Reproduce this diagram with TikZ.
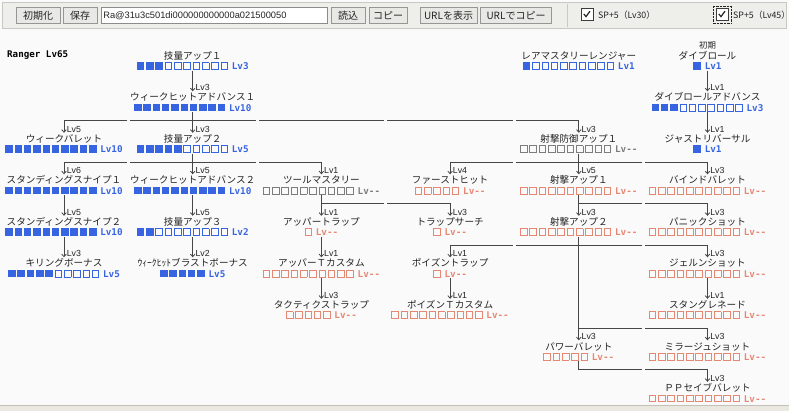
\documentclass[tikz,border=0pt]{standalone}
\usepackage{fontspec}
\usetikzlibrary{arrows.meta}
\newfontfamily\jpf{Noto Sans CJK JP}
\newfontfamily\lsf{Liberation Sans}
\newfontfamily\dmf{DejaVu Sans Mono}
\definecolor{skblue}{RGB}{55,100,225}
\definecolor{skgray}{RGB}{125,125,125}
\definecolor{skorange}{RGB}{230,135,115}
\definecolor{sktext}{RGB}{35,35,35}
\definecolor{skline}{RGB}{70,70,70}
\definecolor{skbg}{RGB}{250,250,250}
\definecolor{tbbg}{RGB}{238,238,235}
\definecolor{tbedge}{RGB}{200,200,196}
\definecolor{btnbg}{RGB}{232,232,228}
\definecolor{btnedge}{RGB}{150,150,148}
\definecolor{fieldedge}{RGB}{140,140,140}
\definecolor{bottomband}{RGB}{234,232,224}
\definecolor{bottomline}{RGB}{195,192,182}
\newcommand\nmfont{\jpf\fontsize{9.6}{10}\selectfont}
\newcommand\smallnmfont{\jpf\fontsize{8.4}{9}\selectfont}
\newcommand\barfont{\jpf\fontsize{9.2}{10}\selectfont}
\newcommand\lvbfont{\dmf\bfseries\fontsize{9.3}{10}\selectfont}
\newcommand\lvsfont{\lsf\fontsize{8.8}{9}\selectfont}
\newcommand\rangerfont{\dmf\bfseries\fontsize{9.2}{10}\selectfont}
\newcommand\btnfont{\jpf\fontsize{10}{11}\selectfont}
\newcommand\fieldfont{\lsf\fontsize{9.3}{11}\selectfont}
\newcommand\cbfont{\jpf\fontsize{8.8}{9}\selectfont}
% one filled / one empty level box
\newcommand\fbx{\rule{7.5pt}{7.5pt}}
\newcommand\ebx{\raisebox{0.9pt}{\fboxsep=0pt\fboxrule=0.9pt\fbox{\rule{0pt}{5.7pt}\rule{5.7pt}{0pt}}}}
\newcount\skcnt
\newcommand\reprow[2]{\skcnt=#1\relax\loop\ifnum\skcnt>0 #2\hspace{1.8pt}\advance\skcnt by -1\repeat}
\newcommand\skbar[3]{\reprow{#1}{\fbx}\reprow{#2}{\ebx}\hspace{2pt}{\lvbfont #3}}
\tikzset{
  skname/.style={inner sep=0pt, text height=8pt, text depth=2pt, font=\nmfont, text=sktext},
  skbarnode/.style={inner sep=0pt, text height=7.5pt, text depth=0.5pt, font=\barfont},
  sbB/.style={skbarnode, text=skblue},
  sbG/.style={skbarnode, text=skgray},
  sbO/.style={skbarnode, text=skorange},
  skln/.style={draw=skline, line width=0.8pt},
  skarrow/.style={skln, -{Straight Barb[length=2.6pt,width=4.6pt]}, shorten >=1.5pt},
  lvl/.style={pos=1, anchor=south west, inner sep=0pt, xshift=2.4pt, yshift=1.5pt, font=\lvsfont, text=sktext},
  btn/.style={draw=btnedge, fill=btnbg, minimum height=16pt, inner sep=0pt, font=\btnfont, text=sktext},
  chk/.style={draw={rgb,255:red,60;green,60;blue,60}, fill=white, minimum size=12pt, inner sep=0pt},
}
\begin{document}
\begin{tikzpicture}[x=1pt,y=-1pt]
\useasboundingbox (0,0) rectangle (789,411);
\fill[skbg] (0,0) rectangle (789,411);
% toolbar
\draw[tbedge, fill=tbbg] (2.5,2.5) rectangle (786.5,28.5);
\draw[tbedge] (567,4) -- (567,27);
\node[btn, minimum width=43.5pt] (bInit) at (38.2,15.5) {初期化};
\node[btn, minimum width=34.5pt] (bSave) at (80.2,15.5) {保存};
\node[draw=fieldedge, fill=white, minimum height=16pt, inner xsep=1.8pt, inner ysep=0pt, text width=222.4pt, align=left, font=\fieldfont, text=sktext] (field) at (214.5,15.5) {Ra@31u3c501di000000000000a021500050};
\node[btn, minimum width=33.5pt] (bLoad) at (348.2,15.5) {読込};
\node[btn, minimum width=38pt] (bCopy) at (388,15.5) {コピー};
\node[btn, minimum width=57pt] (bUrl) at (448.5,15.5) {URLを表示};
\node[btn, minimum width=71pt] (bUrlCopy) at (516,15.5) {URLでコピー};
\node[chk] (cb1) at (587,14.5) {};
\draw[line width=1.2pt, sktext] ([xshift=-3.2pt,yshift=0.5pt]cb1.center) -- ++(2.2pt,-2.6pt) -- ++(4pt,5.4pt);
\node[anchor=west, font=\cbfont, text=sktext, inner sep=0pt] (cbt1) at (598,15) {SP+5（Lv30）};
\node[chk] (cb2) at (722,14.5) {};
\draw[line width=1.2pt, sktext] ([xshift=-3.2pt,yshift=0.5pt]cb2.center) -- ++(2.2pt,-2.6pt) -- ++(4pt,5.4pt);
\draw[densely dotted, sktext] ([shift={(-2.5pt,-2.5pt)}]cb2.south west) rectangle ([shift={(2.5pt,2.5pt)}]cb2.north east);
\node[anchor=west, font=\cbfont, text=sktext, inner sep=0pt] (cbt2) at (733,15) {SP+5（Lv45）};
% bottom band
\fill[bottomband] (0,404.5) rectangle (789,411);
\draw[bottomline, line width=1pt] (0,405.5) -- (789,405.5);
% title
\node[anchor=base west, inner sep=0pt, font=\rangerfont, text=black] (title) at (7,57.3) {Ranger Lv65};
% row 0
\node[skname] (A1) at (192.7,56.5) {技量アップ１};
\node[sbB] (A1b) at (192.7,66.5) {\skbar{3}{7}{Lv3}};
\node[skname] (R1) at (578.8,56.5) {レアマスタリーレンジャー};
\node[sbB] (R1b) at (578.8,66.5) {\skbar{1}{9}{Lv1}};
\node[skname, font=\smallnmfont] (D0) at (707.5,46) {初期};
\node[skname] (D1) at (707.5,56.5) {ダイブロール};
\node[sbB] (D1b) at (707.5,66.5) {\skbar{1}{0}{Lv1}};
% row 1
\node[skname] (W1) at (192.7,98) {ウィークヒットアドバンス１};
\node[sbB] (W1b) at (192.7,108) {\skbar{10}{0}{Lv10}};
\node[skname] (D2) at (707.5,98) {ダイブロールアドバンス};
\node[sbB] (D2b) at (707.5,108) {\skbar{3}{7}{Lv3}};
% row 2
\node[skname] (WB) at (64,139.5) {ウィークバレット};
\node[sbB] (WBb) at (64,149.5) {\skbar{10}{0}{Lv10}};
\node[skname] (A2) at (192.7,139.5) {技量アップ２};
\node[sbB] (A2b) at (192.7,149.5) {\skbar{5}{5}{Lv5}};
\node[skname] (SD1) at (578.8,139.5) {射撃防御アップ１};
\node[sbG] (SD1b) at (578.8,149.5) {\skbar{0}{10}{Lv--}};
\node[skname] (JR) at (707.5,139.5) {ジャストリバーサル};
\node[sbB] (JRb) at (707.5,149.5) {\skbar{1}{0}{Lv1}};
% row 3
\node[skname] (SS1) at (64,181) {スタンディングスナイプ１};
\node[sbB] (SS1b) at (64,191) {\skbar{10}{0}{Lv10}};
\node[skname] (W2) at (192.7,181) {ウィークヒットアドバンス２};
\node[sbB] (W2b) at (192.7,191) {\skbar{10}{0}{Lv10}};
\node[skname] (TM) at (321.4,181) {ツールマスタリー};
\node[sbG] (TMb) at (321.4,191) {\skbar{0}{10}{Lv--}};
\node[skname] (FH) at (450.1,181) {ファーストヒット};
\node[sbO] (FHb) at (450.1,191) {\skbar{0}{5}{Lv--}};
\node[skname] (SU1) at (578.8,181) {射撃アップ１};
\node[sbO] (SU1b) at (578.8,191) {\skbar{0}{10}{Lv--}};
\node[skname] (BB) at (707.5,181) {バインドバレット};
\node[sbO] (BBb) at (707.5,191) {\skbar{0}{10}{Lv--}};
% row 4
\node[skname] (SS2) at (64,222.5) {スタンディングスナイプ２};
\node[sbB] (SS2b) at (64,232.5) {\skbar{10}{0}{Lv10}};
\node[skname] (A3) at (192.7,222.5) {技量アップ３};
\node[sbB] (A3b) at (192.7,232.5) {\skbar{2}{8}{Lv2}};
\node[skname] (UT) at (321.4,222.5) {アッパートラップ};
\node[sbO] (UTb) at (321.4,232.5) {\skbar{0}{1}{Lv--}};
\node[skname] (TS) at (450.1,222.5) {トラップサーチ};
\node[sbO] (TSb) at (450.1,232.5) {\skbar{0}{1}{Lv--}};
\node[skname] (SU2) at (578.8,222.5) {射撃アップ２};
\node[sbO] (SU2b) at (578.8,232.5) {\skbar{0}{10}{Lv--}};
\node[skname] (PS) at (707.5,222.5) {パニックショット};
\node[sbO] (PSb) at (707.5,232.5) {\skbar{0}{10}{Lv--}};
% row 5
\node[skname] (KB) at (64,264) {キリングボーナス};
\node[sbB] (KBb) at (64,274) {\skbar{5}{5}{Lv5}};
\node[skname] (WBB) at (192.7,264) {ｳｨｰｸﾋｯﾄブラストボーナス};
\node[sbB] (WBBb) at (192.7,274) {\skbar{5}{0}{Lv5}};
\node[skname] (UTC) at (321.4,264) {アッパーＴカスタム};
\node[sbO] (UTCb) at (321.4,274) {\skbar{0}{10}{Lv--}};
\node[skname] (PT) at (450.1,264) {ポイズントラップ};
\node[sbO] (PTb) at (450.1,274) {\skbar{0}{1}{Lv--}};
\node[skname] (GS) at (707.5,264) {ジェルンショット};
\node[sbO] (GSb) at (707.5,274) {\skbar{0}{10}{Lv--}};
% row 6
\node[skname] (TT) at (321.4,305.5) {タクティクストラップ};
\node[sbO] (TTb) at (321.4,315.5) {\skbar{0}{5}{Lv--}};
\node[skname] (PTC) at (450.1,305.5) {ポイズンＴカスタム};
\node[sbO] (PTCb) at (450.1,315.5) {\skbar{0}{10}{Lv--}};
\node[skname] (SG) at (707.5,305.5) {スタングレネード};
\node[sbO] (SGb) at (707.5,315.5) {\skbar{0}{10}{Lv--}};
% row 7
\node[skname] (PB) at (578.8,347) {パワーバレット};
\node[sbO] (PBb) at (578.8,357) {\skbar{0}{5}{Lv--}};
\node[skname] (MS) at (707.5,347) {ミラージュショット};
\node[sbO] (MSb) at (707.5,357) {\skbar{0}{10}{Lv--}};
% row 8
\node[skname] (PP) at (707.5,388.5) {ＰＰセイブバレット};
\node[sbO] (PPb) at (707.5,398.5) {\skbar{0}{10}{Lv--}};
% horizontal levels
\coordinate (h2) at (0,120.5);
\coordinate (h3) at (0,162);
\coordinate (h4) at (0,203.5);
\coordinate (h5) at (0,245);
\coordinate (h7) at (0,328);
\coordinate (h8) at (0,369.5);
% horizontal connector bars
\draw[skln] (WB.north |- h2) -- (SD1.north |- h2);
\draw[skln] (SS1.north |- h3) -- (TM.north |- h3);
\draw[skln] (FH.north |- h3) -- (BB.north |- h3);
\draw[skln] (UT.north |- h4) -- (TS.north |- h4);
\draw[skln] (SU2.north |- h4) -- (PS.north |- h4);
\draw[skln] (PT.north |- h5) -- (GS.north |- h5);
\draw[skln] (PB.north |- h7) -- (MS.north |- h7);
\draw[skln] (PBb.south) |- (PP.north |- h8);
% cell-border gaps in the horizontal bars
\foreach \gx/\gy in {128.4/120.5, 257.1/120.5, 385.8/120.5, 514.5/120.5,
                     128.4/162, 257.1/162, 514.5/162, 643.2/162,
                     385.8/203.5, 643.2/203.5, 514.5/245, 643.2/245,
                     643.2/328, 643.2/369.5}
  \fill[skbg] (\gx-1.6,\gy-1.6) rectangle (\gx+1.6,\gy+1.6);
% arrows
\draw[skarrow] (A1b.south) -- (W1.north) node[lvl] {Lv3};
\draw[skarrow] (D1b.south) -- (D2.north) node[lvl] {Lv1};
\draw[skarrow] (D2b.south) -- (JR.north) node[lvl] {Lv1};
\draw[skarrow] (W1b.south) -- (A2.north) node[lvl] {Lv3};
\draw[skarrow] (WB.north |- h2) -- (WB.north) node[lvl] {Lv5};
\draw[skarrow] (SD1.north |- h2) -- (SD1.north) node[lvl] {Lv3};
\draw[skarrow] (A2b.south) -- (W2.north) node[lvl] {Lv5};
\draw[skarrow] (SS1.north |- h3) -- (SS1.north) node[lvl] {Lv6};
\draw[skarrow] (TM.north |- h3) -- (TM.north) node[lvl] {Lv1};
\draw[skarrow] (SD1b.south) -- (SU1.north) node[lvl] {Lv5};
\draw[skarrow] (FH.north |- h3) -- (FH.north) node[lvl] {Lv4};
\draw[skarrow] (BB.north |- h3) -- (BB.north) node[lvl] {Lv3};
\draw[skarrow] (SS1b.south) -- (SS2.north) node[lvl] {Lv5};
\draw[skarrow] (W2b.south) -- (A3.north) node[lvl] {Lv5};
\draw[skarrow] (TMb.south) -- (UT.north) node[lvl] {Lv1};
\draw[skarrow] (TS.north |- h4) -- (TS.north) node[lvl] {Lv3};
\draw[skarrow] (SU1b.south) -- (SU2.north) node[lvl] {Lv3};
\draw[skarrow] (PS.north |- h4) -- (PS.north) node[lvl] {Lv3};
\draw[skarrow] (SS2b.south) -- (KB.north) node[lvl] {Lv3};
\draw[skarrow] (A3b.south) -- (WBB.north) node[lvl] {Lv2};
\draw[skarrow] (UTb.south) -- (UTC.north) node[lvl] {Lv1};
\draw[skarrow] (PT.north |- h5) -- (PT.north) node[lvl] {Lv1};
\draw[skarrow] (GS.north |- h5) -- (GS.north) node[lvl] {Lv3};
\draw[skarrow] (UTCb.south) -- (TT.north) node[lvl] {Lv3};
\draw[skarrow] (PTb.south) -- (PTC.north) node[lvl] {Lv1};
\draw[skarrow] (GSb.south) -- (SG.north) node[lvl] {Lv1};
\draw[skarrow] (SU2b.south) -- (PB.north) node[lvl] {Lv3};
\draw[skarrow] (MS.north |- h7) -- (MS.north) node[lvl] {Lv3};
\draw[skarrow] (PP.north |- h8) -- (PP.north) node[lvl] {Lv3};
\end{tikzpicture}
\end{document}
